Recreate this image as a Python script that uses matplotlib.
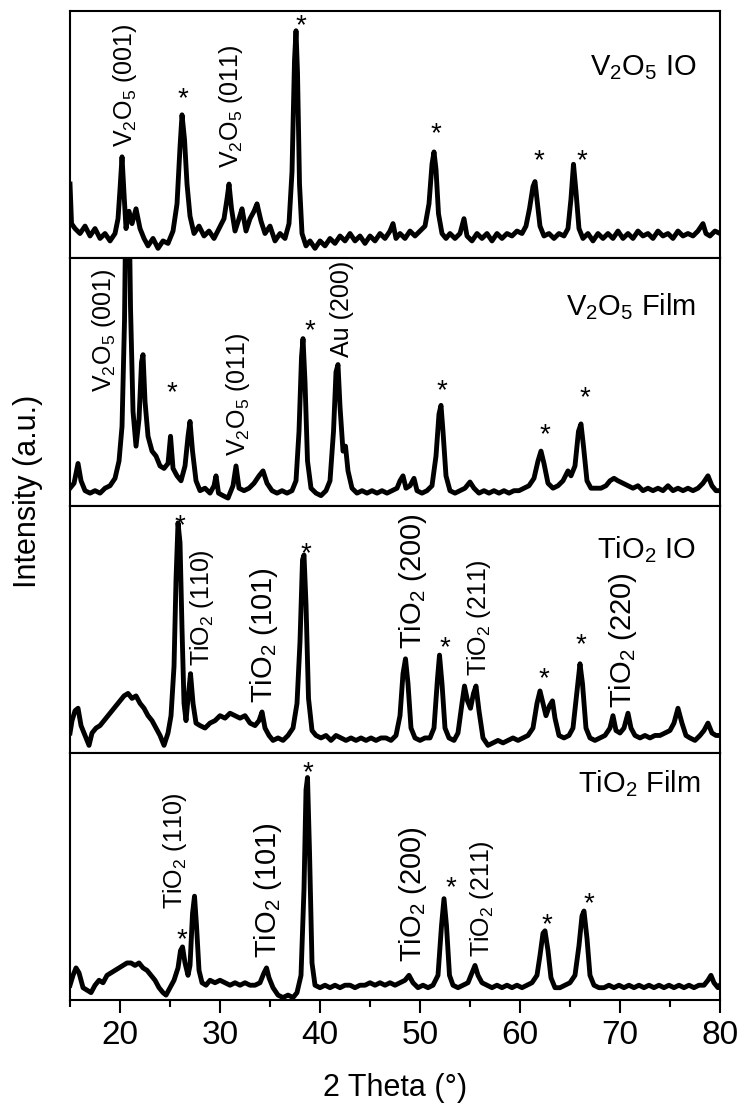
import matplotlib
matplotlib.use("Agg")
import matplotlib.pyplot as plt
from matplotlib.ticker import MultipleLocator

plt.rcParams['font.family'] = ['Liberation Sans', 'DejaVu Sans']
plt.rcParams['mathtext.fontset'] = 'custom'
plt.rcParams['mathtext.rm'] = 'Liberation Sans'

# ---- data (x = 2 theta, y = fraction of panel height) ----
v2o5_io_x = [15.0, 15.15, 15.5, 16.0, 16.5, 17.0, 17.5, 18.0, 18.5, 19.0, 19.5, 19.8, 20.0, 20.2, 20.4, 20.6,
             20.9, 21.2, 21.6, 22.0, 22.4, 22.8, 23.3, 23.8, 24.3, 24.8, 25.3, 25.7, 26.0, 26.2, 26.45, 26.7,
             27.0, 27.4, 27.9, 28.4, 28.9, 29.4, 29.9, 30.4, 30.7, 30.9, 31.15, 31.5, 31.9, 32.2, 32.6, 33.0,
             33.4, 33.7, 34.1, 34.5, 35.0, 35.5, 36.0, 36.5, 36.9, 37.2, 37.45, 37.6, 37.75, 37.95, 38.2, 38.6,
             39.0, 39.5, 40.0, 40.5, 41.0, 41.5, 42.0, 42.5, 43.0, 43.5, 44.0, 44.5, 45.0, 45.5, 46.0, 46.5,
             47.0, 47.3, 47.6, 48.0, 48.5, 49.0, 49.5, 50.0, 50.5, 50.9, 51.2, 51.4, 51.6, 51.85, 52.2, 52.6,
             53.0, 53.5, 54.0, 54.4, 54.7, 55.2, 55.7, 56.2, 56.7, 57.2, 57.7, 58.2, 58.7, 59.2, 59.7, 60.2,
             60.6, 60.95, 61.3, 61.5, 61.75, 62.0, 62.4, 62.9, 63.4, 63.9, 64.4, 64.8, 65.1, 65.35, 65.6, 65.9,
             66.3, 66.8, 67.3, 67.8, 68.3, 68.8, 69.3, 69.8, 70.3, 70.8, 71.3, 71.8, 72.3, 72.8, 73.3, 73.8,
             74.3, 74.8, 75.3, 75.8, 76.3, 76.8, 77.3, 77.8, 78.3, 78.6, 79.0, 79.5, 80.0]
v2o5_io_y = [0.30, 0.14, 0.12, 0.10, 0.13, 0.09, 0.12, 0.08, 0.10, 0.07, 0.10, 0.16, 0.28, 0.41, 0.26, 0.12,
             0.19, 0.14, 0.20, 0.12, 0.08, 0.05, 0.08, 0.04, 0.07, 0.06, 0.11, 0.22, 0.45, 0.58, 0.48, 0.30,
             0.17, 0.10, 0.13, 0.09, 0.11, 0.08, 0.12, 0.16, 0.24, 0.30, 0.20, 0.11, 0.16, 0.20, 0.11, 0.16,
             0.19, 0.22, 0.15, 0.10, 0.13, 0.07, 0.10, 0.08, 0.14, 0.35, 0.80, 0.92, 0.75, 0.30, 0.10, 0.05,
             0.07, 0.04, 0.07, 0.05, 0.08, 0.06, 0.09, 0.07, 0.10, 0.07, 0.09, 0.06, 0.09, 0.07, 0.10, 0.08,
             0.11, 0.14, 0.08, 0.10, 0.08, 0.11, 0.09, 0.11, 0.13, 0.22, 0.38, 0.43, 0.36, 0.18, 0.10, 0.08,
             0.10, 0.08, 0.10, 0.16, 0.09, 0.07, 0.10, 0.08, 0.10, 0.07, 0.10, 0.08, 0.10, 0.09, 0.11, 0.10,
             0.13, 0.20, 0.29, 0.31, 0.22, 0.13, 0.09, 0.10, 0.08, 0.10, 0.09, 0.12, 0.24, 0.38, 0.27, 0.12,
             0.08, 0.10, 0.07, 0.10, 0.08, 0.10, 0.08, 0.11, 0.08, 0.10, 0.08, 0.11, 0.09, 0.10, 0.08, 0.11,
             0.09, 0.10, 0.08, 0.11, 0.09, 0.10, 0.09, 0.11, 0.14, 0.10, 0.09, 0.11, 0.10]

v2o5_film_x = [15.0, 15.4, 15.8, 16.1, 16.5, 17.0, 17.5, 18.0, 18.5, 19.0, 19.5, 19.9, 20.2, 20.45, 20.6, 20.85,
               21.05, 21.3, 21.6, 21.9, 22.15, 22.3, 22.5, 22.8, 23.2, 23.6, 24.0, 24.4, 24.8, 25.05, 25.3, 25.7,
               26.1, 26.5, 26.8, 27.0, 27.25, 27.6, 28.0, 28.5, 29.0, 29.4, 29.6, 29.85, 30.3, 30.8, 31.3, 31.6,
               31.9, 32.4, 32.9, 33.4, 33.9, 34.3, 34.7, 35.2, 35.7, 36.2, 36.7, 37.2, 37.6, 37.9, 38.15, 38.3,
               38.5, 38.75, 39.1, 39.6, 40.1, 40.6, 41.0, 41.35, 41.6, 41.8, 42.0, 42.3, 42.55, 42.8, 43.2, 43.7,
               44.2, 44.7, 45.2, 45.7, 46.2, 46.7, 47.2, 47.7, 48.0, 48.3, 48.6, 49.0, 49.4, 49.7, 50.2, 50.7,
               51.2, 51.6, 51.9, 52.1, 52.3, 52.6, 53.0, 53.5, 54.0, 54.5, 55.0, 55.4, 55.9, 56.4, 56.9, 57.4,
               57.9, 58.4, 58.9, 59.4, 59.9, 60.4, 60.9, 61.4, 61.8, 62.1, 62.4, 62.8, 63.3, 63.8, 64.3, 64.8,
               65.1, 65.5, 65.85, 66.1, 66.35, 66.7, 67.1, 67.6, 68.1, 68.6, 69.0, 69.4, 69.8, 70.3, 70.8, 71.3,
               71.8, 72.3, 72.8, 73.3, 73.8, 74.3, 74.8, 75.3, 75.8, 76.3, 76.8, 77.3, 77.8, 78.3, 78.8, 79.2,
               79.6, 80.0]
v2o5_film_y = [0.07, 0.09, 0.17, 0.10, 0.06, 0.05, 0.06, 0.05, 0.07, 0.08, 0.11, 0.18, 0.32, 0.75, 1.30, 1.40,
               0.80, 0.38, 0.24, 0.35, 0.58, 0.61, 0.42, 0.28, 0.22, 0.20, 0.16, 0.15, 0.17, 0.28, 0.15, 0.12,
               0.10, 0.16, 0.28, 0.34, 0.22, 0.10, 0.06, 0.07, 0.05, 0.08, 0.12, 0.05, 0.04, 0.03, 0.08, 0.16,
               0.07, 0.06, 0.07, 0.09, 0.12, 0.14, 0.09, 0.06, 0.05, 0.06, 0.05, 0.06, 0.10, 0.30, 0.60, 0.675,
               0.50, 0.18, 0.07, 0.05, 0.04, 0.06, 0.10, 0.30, 0.54, 0.57, 0.40, 0.22, 0.24, 0.14, 0.07, 0.05,
               0.06, 0.05, 0.06, 0.05, 0.06, 0.05, 0.06, 0.07, 0.10, 0.12, 0.07, 0.08, 0.11, 0.06, 0.05, 0.06,
               0.08, 0.20, 0.37, 0.405, 0.30, 0.12, 0.06, 0.05, 0.06, 0.07, 0.095, 0.07, 0.05, 0.06, 0.05, 0.06,
               0.05, 0.06, 0.05, 0.06, 0.06, 0.07, 0.08, 0.11, 0.18, 0.22, 0.17, 0.09, 0.07, 0.08, 0.10, 0.14,
               0.12, 0.16, 0.30, 0.33, 0.24, 0.10, 0.07, 0.07, 0.07, 0.08, 0.10, 0.11, 0.10, 0.09, 0.08, 0.07,
               0.08, 0.06, 0.07, 0.06, 0.07, 0.06, 0.08, 0.06, 0.07, 0.06, 0.07, 0.06, 0.07, 0.09, 0.12, 0.08,
               0.06, 0.06]

tio2_io_x = [15.0, 15.2, 15.5, 15.8, 16.1, 16.5, 16.9, 17.2, 17.6, 18.0, 18.4, 18.8, 19.2, 19.6, 20.0, 20.4,
             20.8, 21.2, 21.6, 22.0, 22.4, 22.8, 23.2, 23.6, 24.0, 24.4, 24.8, 25.1, 25.4, 25.6, 25.8, 26.0,
             26.2, 26.4, 26.6, 26.8, 27.05, 27.3, 27.6, 28.0, 28.5, 29.0, 29.5, 30.0, 30.5, 31.0, 31.5, 32.0,
             32.5, 33.0, 33.5, 33.9, 34.2, 34.5, 34.9, 35.3, 35.8, 36.3, 36.8, 37.3, 37.7, 38.0, 38.25, 38.4,
             38.6, 38.85, 39.2, 39.6, 40.1, 40.6, 41.1, 41.6, 42.1, 42.6, 43.1, 43.6, 44.1, 44.6, 45.1, 45.6,
             46.1, 46.6, 47.1, 47.6, 48.0, 48.3, 48.55, 48.8, 49.1, 49.5, 50.0, 50.5, 51.0, 51.4, 51.75, 51.95,
             52.2, 52.5, 52.9, 53.4, 53.8, 54.2, 54.45, 54.75, 55.05, 55.35, 55.6, 55.9, 56.3, 56.8, 57.3, 57.8,
             58.3, 58.8, 59.3, 59.8, 60.3, 60.8, 61.3, 61.7, 62.0, 62.3, 62.6, 62.95, 63.25, 63.5, 63.9, 64.4,
             64.9, 65.3, 65.7, 66.0, 66.25, 66.6, 67.0, 67.5, 68.0, 68.5, 69.0, 69.3, 69.6, 70.0, 70.4, 70.8,
             71.1, 71.5, 72.0, 72.5, 73.0, 73.5, 74.0, 74.5, 75.0, 75.4, 75.8, 76.2, 76.6, 77.0, 77.5, 78.0,
             78.4, 78.8, 79.2, 79.6, 80.0]
tio2_io_y = [0.08, 0.13, 0.17, 0.18, 0.11, 0.07, 0.03, 0.08, 0.10, 0.11, 0.13, 0.15, 0.17, 0.19, 0.21, 0.23,
             0.24, 0.22, 0.23, 0.20, 0.18, 0.15, 0.13, 0.10, 0.07, 0.03, 0.08, 0.15, 0.35, 0.70, 0.93, 0.85,
             0.50, 0.20, 0.13, 0.22, 0.32, 0.20, 0.12, 0.11, 0.10, 0.12, 0.13, 0.15, 0.14, 0.16, 0.15, 0.14,
             0.15, 0.12, 0.11, 0.13, 0.165, 0.10, 0.07, 0.05, 0.06, 0.05, 0.07, 0.10, 0.20, 0.45, 0.78, 0.80,
             0.60, 0.22, 0.09, 0.07, 0.06, 0.07, 0.05, 0.07, 0.06, 0.05, 0.06, 0.05, 0.06, 0.05, 0.06, 0.05,
             0.06, 0.06, 0.05, 0.07, 0.15, 0.32, 0.38, 0.28, 0.10, 0.06, 0.05, 0.06, 0.06, 0.10, 0.30, 0.395,
             0.28, 0.10, 0.06, 0.05, 0.08, 0.20, 0.27, 0.21, 0.18, 0.24, 0.27, 0.17, 0.06, 0.03, 0.04, 0.05,
             0.04, 0.05, 0.06, 0.05, 0.06, 0.07, 0.10, 0.20, 0.25, 0.20, 0.15, 0.19, 0.21, 0.14, 0.07, 0.06,
             0.07, 0.10, 0.25, 0.36, 0.28, 0.10, 0.06, 0.05, 0.06, 0.07, 0.10, 0.15, 0.09, 0.08, 0.10, 0.16,
             0.10, 0.07, 0.06, 0.07, 0.06, 0.07, 0.07, 0.08, 0.09, 0.12, 0.18, 0.12, 0.07, 0.06, 0.05, 0.07,
             0.09, 0.12, 0.08, 0.07, 0.07]

tio2_film_x = [15.0, 15.3, 15.6, 15.9, 16.3, 16.7, 17.1, 17.5, 17.9, 18.3, 18.7, 19.1, 19.5, 19.9, 20.3, 20.7,
               21.1, 21.5, 21.9, 22.3, 22.7, 23.1, 23.5, 23.9, 24.3, 24.6, 25.0, 25.4, 25.8, 26.05, 26.25, 26.5,
               26.8, 27.0, 27.25, 27.45, 27.65, 27.9, 28.2, 28.6, 29.0, 29.5, 30.0, 30.5, 31.0, 31.5, 32.0, 32.5,
               33.0, 33.5, 34.0, 34.4, 34.65, 34.9, 35.3, 35.8, 36.3, 36.8, 37.3, 37.7, 38.1, 38.4, 38.6, 38.75,
               38.95, 39.2, 39.5, 40.0, 40.5, 41.0, 41.5, 42.0, 42.5, 43.0, 43.5, 44.0, 44.5, 45.0, 45.5, 46.0,
               46.5, 47.0, 47.5, 48.0, 48.5, 48.9, 49.3, 49.8, 50.3, 50.8, 51.3, 51.8, 52.15, 52.4, 52.65, 52.95,
               53.3, 53.8, 54.3, 54.8, 55.2, 55.5, 55.8, 56.2, 56.7, 57.2, 57.7, 58.2, 58.7, 59.2, 59.7, 60.2,
               60.7, 61.2, 61.7, 62.0, 62.3, 62.5, 62.8, 63.1, 63.5, 64.0, 64.5, 65.0, 65.5, 65.9, 66.2, 66.4,
               66.7, 67.0, 67.4, 67.9, 68.4, 68.9, 69.4, 69.9, 70.4, 70.9, 71.4, 71.9, 72.4, 72.9, 73.4, 73.9,
               74.4, 74.9, 75.4, 75.9, 76.4, 76.9, 77.4, 77.9, 78.4, 78.8, 79.1, 79.4, 79.8, 80.0]
tio2_film_y = [0.06, 0.10, 0.13, 0.11, 0.05, 0.04, 0.03, 0.06, 0.08, 0.07, 0.10, 0.11, 0.12, 0.13, 0.14, 0.15,
               0.15, 0.14, 0.15, 0.13, 0.12, 0.10, 0.08, 0.05, 0.03, 0.02, 0.05, 0.08, 0.13, 0.20, 0.215, 0.15,
               0.10, 0.14, 0.35, 0.42, 0.30, 0.12, 0.07, 0.06, 0.08, 0.07, 0.08, 0.07, 0.06, 0.07, 0.06, 0.07,
               0.06, 0.06, 0.07, 0.11, 0.13, 0.09, 0.05, 0.02, 0.01, 0.02, 0.01, 0.03, 0.10, 0.45, 0.85, 0.90,
               0.60, 0.15, 0.06, 0.05, 0.06, 0.05, 0.06, 0.05, 0.06, 0.06, 0.05, 0.06, 0.06, 0.07, 0.06, 0.07,
               0.06, 0.07, 0.06, 0.07, 0.08, 0.10, 0.07, 0.05, 0.06, 0.05, 0.06, 0.10, 0.30, 0.41, 0.30, 0.10,
               0.06, 0.05, 0.06, 0.07, 0.11, 0.14, 0.10, 0.07, 0.06, 0.05, 0.06, 0.05, 0.06, 0.05, 0.06, 0.05,
               0.06, 0.07, 0.10, 0.18, 0.27, 0.28, 0.20, 0.09, 0.05, 0.05, 0.06, 0.07, 0.10, 0.22, 0.34, 0.36,
               0.25, 0.10, 0.06, 0.05, 0.05, 0.06, 0.05, 0.06, 0.05, 0.06, 0.05, 0.06, 0.05, 0.06, 0.05, 0.06,
               0.05, 0.06, 0.05, 0.06, 0.05, 0.06, 0.05, 0.06, 0.06, 0.08, 0.10, 0.07, 0.05, 0.06]

V2O5 = r'V$_\mathregular{2}$O$_\mathregular{5}$'
TIO2 = r'TiO$_\mathregular{2}$'

sample_names = [V2O5 + ' IO', V2O5 + ' Film', TIO2 + ' IO', TIO2 + ' Film']
sample_name_pos = [(77.6, 0.74), (77.6, 0.77), (77.6, 0.786), (78.0, 0.84)]

# asterisk positions (x, y centre) per panel
stars = [
    [(26.3, 0.68), (38.1, 0.975), (51.6, 0.54), (61.9, 0.43), (66.2, 0.43)],
    [(25.2, 0.49), (39.0, 0.74), (52.2, 0.50), (62.5, 0.32), (66.5, 0.47)],
    [(26.0, 0.955), (38.6, 0.84), (52.5, 0.46), (62.4, 0.335), (66.1, 0.47)],
    [(26.2, 0.28), (38.8, 0.955), (53.1, 0.49), (62.7, 0.34), (66.9, 0.425)],
]

# vertical peak labels: (x centre, y bottom, text, fontsize)
peak_labels = [
    [(20.5, 0.45, V2O5 + ' (001)', 18), (31.1, 0.366, V2O5 + ' (011)', 18)],
    [(18.4, 0.46, V2O5 + ' (001)', 18), (31.8, 0.20, V2O5 + ' (011)', 18), (42.2, 0.60, 'Au (200)', 18)],
    [(28.2, 0.35, TIO2 + ' (110)', 18), (34.4, 0.20, TIO2 + ' (101)', 21), (49.3, 0.42, TIO2 + ' (200)', 21),
     (55.9, 0.31, TIO2 + ' (211)', 18), (70.3, 0.18, TIO2 + ' (220)', 21)],
    [(25.5, 0.37, TIO2 + ' (110)', 18), (34.8, 0.17, TIO2 + ' (101)', 21), (49.3, 0.155, TIO2 + ' (200)', 21),
     (56.2, 0.175, TIO2 + ' (211)', 18)],
]

traces = [(v2o5_io_x, v2o5_io_y), (v2o5_film_x, v2o5_film_y),
          (tio2_io_x, tio2_io_y), (tio2_film_x, tio2_film_y)]

fig, axes = plt.subplots(4, 1, sharex=True, figsize=(7.45, 11.19), dpi=100)
fig.subplots_adjust(left=0.094, right=0.9664, bottom=0.1063, top=0.9902, hspace=0)

for i, ax in enumerate(axes):
    x, y = traces[i]
    ax.plot(x, y, color='black', lw=3.5, solid_joinstyle='round')
    ax.set_xlim(15, 80)
    ax.set_ylim(0, 1)
    ax.set_yticks([])
    for sp in ax.spines.values():
        sp.set_linewidth(1.5)
    ax.tick_params(axis='x', which='both', bottom=False, top=False, labelbottom=False)

    sx, sy = sample_name_pos[i]
    ax.text(sx, sy, sample_names[i], fontsize=21, ha='right', va='baseline')

    for px, py in stars[i]:
        ax.annotate('*', (px, py), xytext=(0, -0.58 * 20), textcoords='offset points',
                    fontsize=20, ha='center', va='baseline')

    for lx, ly, txt, fs in peak_labels[i]:
        ax.text(lx, ly, txt, fontsize=fs, rotation=90, ha='center', va='bottom')

bottom = axes[-1]
bottom.xaxis.set_major_locator(MultipleLocator(10))
bottom.xaxis.set_minor_locator(MultipleLocator(5))
bottom.tick_params(axis='x', which='major', bottom=True, labelbottom=True, direction='out',
                   length=9.5, width=1.5, labelsize=24, pad=5)
bottom.tick_params(axis='x', which='minor', bottom=True, direction='out', length=5, width=1.5)
bottom.set_xlabel('2 Theta (°)', fontsize=22, labelpad=16)

fig.text(28 / 745, 1 - 491 / 1119, 'Intensity (a.u.)', fontsize=22, rotation=90,
         ha='center', va='center')

fig.savefig('out.png', dpi=100)
